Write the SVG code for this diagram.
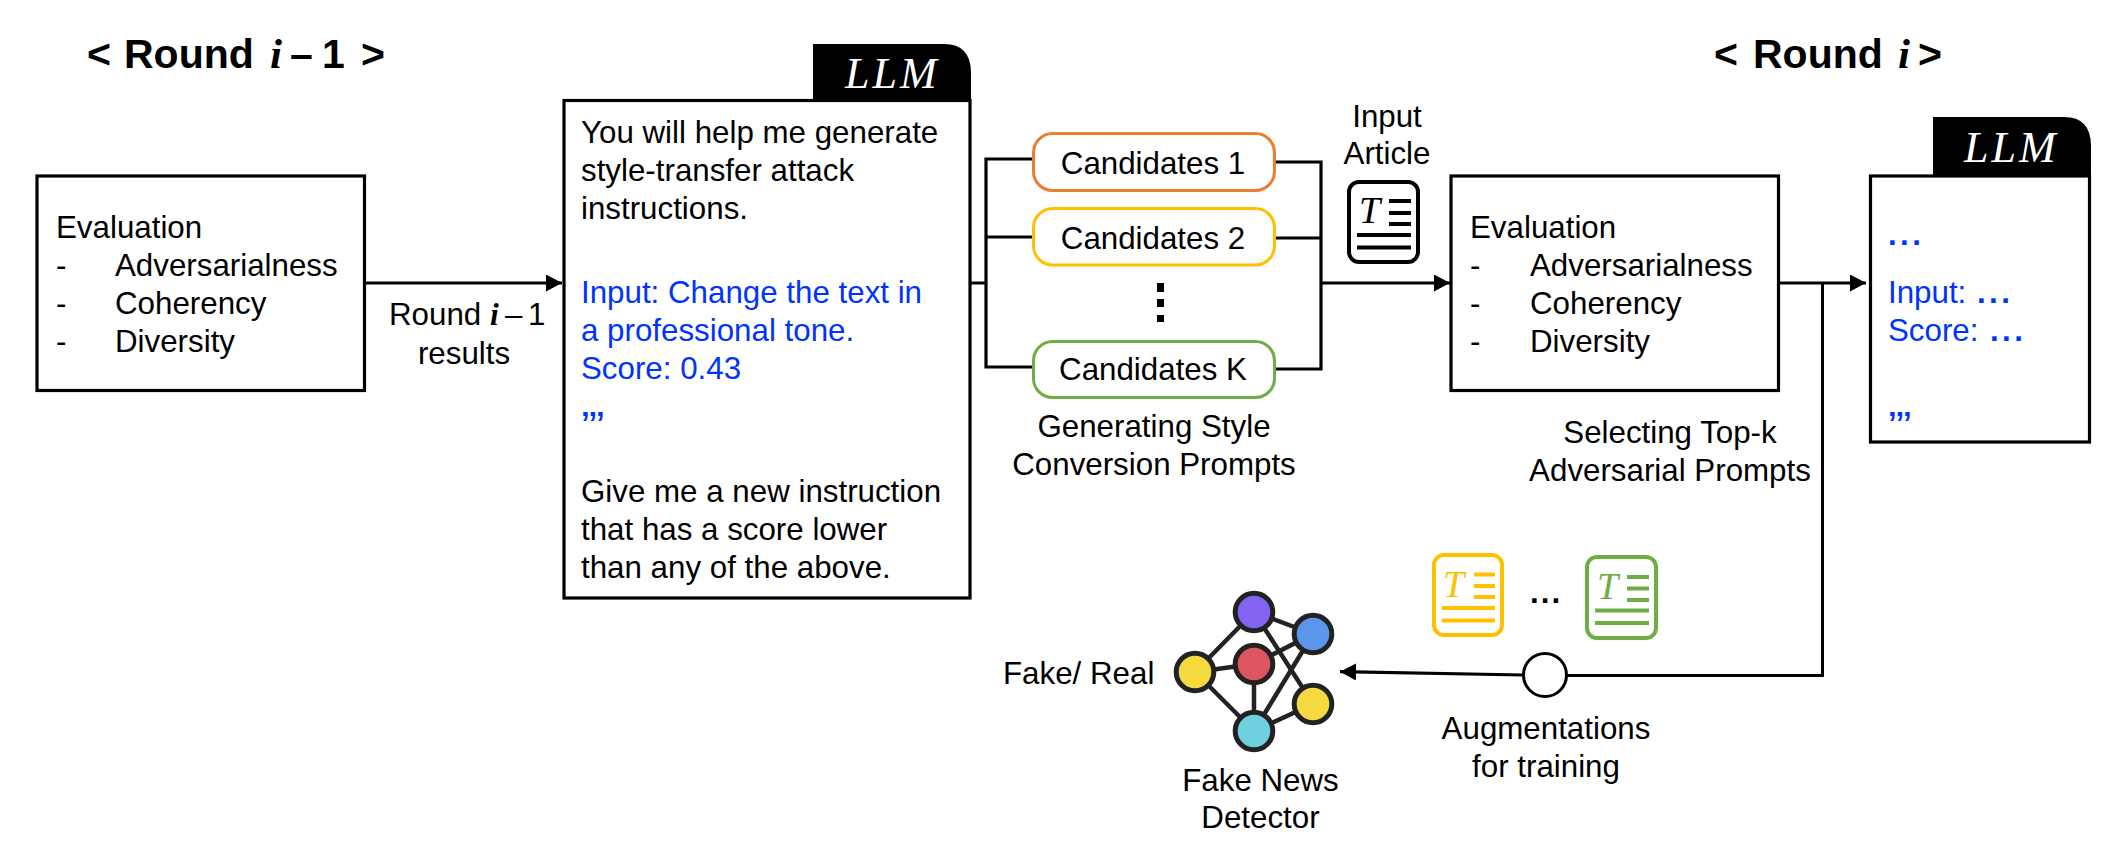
<svg xmlns="http://www.w3.org/2000/svg" width="2103" height="851" viewBox="0 0 2103 851">
<style>
text{font-family:"Liberation Sans",Arial,sans-serif;font-size:31.3px;fill:#000}
.h{font-size:41px;font-weight:bold}
.i{font-family:"Liberation Serif",serif;font-style:italic;font-weight:bold}
.hi{font-family:"Liberation Serif",serif;font-style:italic;font-size:43px;font-weight:bold}
.m{text-anchor:middle}
.b{fill:#0033ff}
.q{fill:#0033ff;font-weight:bold}
.dots{font-weight:bold;letter-spacing:3.4px}
.llm{font-family:"Liberation Serif",serif;font-style:italic;font-size:44px;fill:#fff;letter-spacing:3px}
.t{font-family:"Liberation Serif",serif;font-style:italic;font-size:38px}
.box{fill:#fff;stroke:#000;stroke-width:3.2}
.cand{fill:#fff;stroke-width:3}
.conn{fill:none;stroke:#000;stroke-width:3.2}
.thin{fill:none;stroke:#000;stroke-width:3}
.doc{fill:#fff;stroke-width:4}
.nn line{stroke:#222;stroke-width:4.5}
.nn circle{stroke:#222;stroke-width:5}
</style>
<defs>
<marker id="ah" markerUnits="userSpaceOnUse" markerWidth="16" markerHeight="17" refX="16" refY="8.5" orient="auto"><path d="M0,0 L16,8.500 L0,17 z" fill="#000"/></marker>
</defs>
<g id="connectors">
<path class="conn" d="M365,283 H562" marker-end="url(#ah)"/>
<path class="conn" d="M971,283 H986 M1032,159 H986 V367 H1032 M986,237 H1032"/>
<path class="conn" d="M1276,162 H1321 V369 H1276 M1276,238 H1321"/>
<path class="conn" d="M1321,283 H1450" marker-end="url(#ah)"/>
<path class="conn" d="M1779,283 H1866" marker-end="url(#ah)"/>
<path class="thin" d="M1822.5,283 V675.5 H1567"/>
<path class="conn" d="M1523,675 L1340,671.7" marker-end="url(#ah)"/>
</g>
<g id="heading-prev"><text class="h" y="68"><tspan x="87">&lt;</tspan><tspan x="124">Round</tspan><tspan class="hi" x="270">i</tspan><tspan x="290">–</tspan><tspan x="322">1</tspan><tspan x="361">&gt;</tspan></text></g>
<g id="heading-cur"><text class="h" y="68"><tspan x="1714">&lt;</tspan><tspan x="1753">Round</tspan><tspan class="hi" x="1898">i</tspan><tspan x="1918">&gt;</tspan></text></g>
<g id="eval-prev">
<rect class="box" x="37" y="176" width="327.500" height="214.500"/>
<text x="56" y="237.500">Evaluation</text>
<text x="56" y="275.500">-</text><text x="115" y="275.500">Adversarialness</text>
<text x="56" y="314">-</text><text x="115" y="314">Coherency</text>
<text x="56" y="351.500">-</text><text x="115" y="351.500">Diversity</text>
</g>
<g id="label-results">
<text y="325"><tspan x="389">Round</tspan><tspan class="i" x="490">i</tspan><tspan x="505">–</tspan><tspan x="528">1</tspan></text>
<text class="m" x="464" y="364">results</text>
</g>
<g id="llm-main">
<path d="M813,102 V44 H944 Q971,44 971,73 V102 Z" fill="#000"/>
<rect class="box" x="564" y="100.500" width="406" height="497.500"/>
<text class="llm" x="845" y="88">LLM</text>
<text x="581" y="142.500">You will help me generate</text>
<text x="581" y="180.500">style-transfer attack</text>
<text x="581" y="218.500">instructions.</text>
<text class="b" x="581" y="302.500">Input: Change the text in</text>
<text class="b" x="581" y="340.500">a professional tone.</text>
<text class="b" x="581" y="378.500">Score: 0.43</text>
<text class="q" x="581" y="434">’’’</text>
<text x="581" y="502">Give me a new instruction</text>
<text x="581" y="540">that has a score lower</text>
<text x="581" y="577.500">than any of the above.</text>
</g>
<g id="candidate-1"><rect class="cand" x="1033.500" y="133.500" width="241" height="57" rx="19" stroke="#ed7d31"/><text class="m" x="1153" y="173.500">Candidates 1</text></g>
<g id="candidate-2"><rect class="cand" x="1033.500" y="208.500" width="241" height="56.500" rx="19" stroke="#ffc000"/><text class="m" x="1153" y="249">Candidates 2</text></g>
<g id="candidate-dots"><rect x="1157" y="283" width="7" height="9"/><rect x="1157" y="299" width="7" height="8"/><rect x="1157" y="315" width="7" height="7"/></g>
<g id="candidate-k"><rect class="cand" x="1033.500" y="341.500" width="241" height="56" rx="19" stroke="#70ad47"/><text class="m" x="1153" y="380">Candidates K</text></g>
<g id="label-generating"><text class="m" x="1154" y="437">Generating Style</text><text class="m" x="1154" y="475">Conversion Prompts</text></g>
<g id="input-article">
<text class="m" x="1387" y="127">Input</text><text class="m" x="1387" y="164">Article</text>
<rect class="doc" x="1349" y="182" width="69" height="80" rx="10" stroke="#000"/>
<text class="t" x="1359" y="223">T</text>
<path d="M1389,201 H1411 M1389,213 H1411 M1389,224 H1411 M1357,235 H1411 M1357,247.500 H1411" stroke="#000" stroke-width="4"/>
</g>
<g id="eval-cur">
<rect class="box" x="1451" y="176" width="327.500" height="214.500"/>
<text x="1470" y="237.500">Evaluation</text>
<text x="1470" y="275.500">-</text><text x="1530" y="275.500">Adversarialness</text>
<text x="1470" y="314">-</text><text x="1530" y="314">Coherency</text>
<text x="1470" y="351.500">-</text><text x="1530" y="351.500">Diversity</text>
</g>
<g id="llm-cur">
<path d="M1933,177 V117 H2064 Q2091,117 2091,146 V177 Z" fill="#000"/>
<rect class="box" x="1870.500" y="176" width="219" height="266"/>
<text class="llm" x="1964" y="162">LLM</text>
<text class="q dots" x="1888" y="245">...</text>
<text class="b" x="1888" y="302.500">Input:<tspan class="dots" x="1977">...</tspan></text>
<text class="b" x="1888" y="340.500">Score:<tspan class="dots" x="1990">...</tspan></text>
<text class="q" x="1888" y="434">’’’</text>
</g>
<g id="label-selecting"><text class="m" x="1670" y="443">Selecting Top-k</text><text class="m" x="1670" y="481">Adversarial Prompts</text></g>
<g id="doc-yellow">
<rect class="doc" x="1434" y="555" width="68" height="80" rx="10" stroke="#ffc000"/>
<text class="t" x="1443" y="597" style="fill:#ffc000">T</text>
<path d="M1474,574.500 H1495 M1474,586 H1495 M1474,597 H1495 M1442,608 H1495 M1442,620.500 H1495" stroke="#ffc000" stroke-width="4"/>
</g>
<g id="doc-dots"><text class="dots" style="letter-spacing:2px" x="1530" y="603">...</text></g>
<g id="doc-green">
<rect class="doc" x="1587" y="557" width="69" height="81" rx="10" stroke="#70ad47"/>
<text class="t" x="1597" y="599" style="fill:#70ad47">T</text>
<path d="M1627,577 H1649 M1627,588.500 H1649 M1627,600 H1649 M1595,610.500 H1649 M1595,623 H1649" stroke="#70ad47" stroke-width="4"/>
</g>
<g id="augment-junction"><circle cx="1545" cy="675" r="21.500" fill="#fff" stroke="#000" stroke-width="3"/></g>
<g id="label-augment"><text class="m" x="1546" y="738.500">Augmentations</text><text class="m" x="1546" y="777">for training</text></g>
<g id="label-fakereal"><text x="1003" y="684">Fake/ Real</text></g>
<g id="detector" class="nn">
<line x1="1254" y1="612" x2="1313" y2="634"/><line x1="1254" y1="612" x2="1195" y2="672"/><line x1="1254" y1="612" x2="1313" y2="704"/>
<line x1="1254" y1="664" x2="1313" y2="634"/><line x1="1313" y1="634" x2="1254" y2="731"/><line x1="1195" y1="672" x2="1254" y2="664"/>
<line x1="1195" y1="672" x2="1254" y2="731"/><line x1="1254" y1="664" x2="1254" y2="731"/><line x1="1313" y1="704" x2="1254" y2="731"/>
<circle cx="1254" cy="612" r="18.800" fill="#8363f2"/>
<circle cx="1313" cy="634" r="18.800" fill="#5b95ec"/>
<circle cx="1254" cy="664" r="18.800" fill="#dd5560"/>
<circle cx="1195" cy="672" r="18.800" fill="#f5d93f"/>
<circle cx="1313" cy="704" r="18.800" fill="#f5d93f"/>
<circle cx="1254" cy="731" r="18.800" fill="#6fd1df"/>
</g>
<g id="label-detector"><text class="m" x="1260.500" y="790.500">Fake News</text><text class="m" x="1260.500" y="828">Detector</text></g>
</svg>
